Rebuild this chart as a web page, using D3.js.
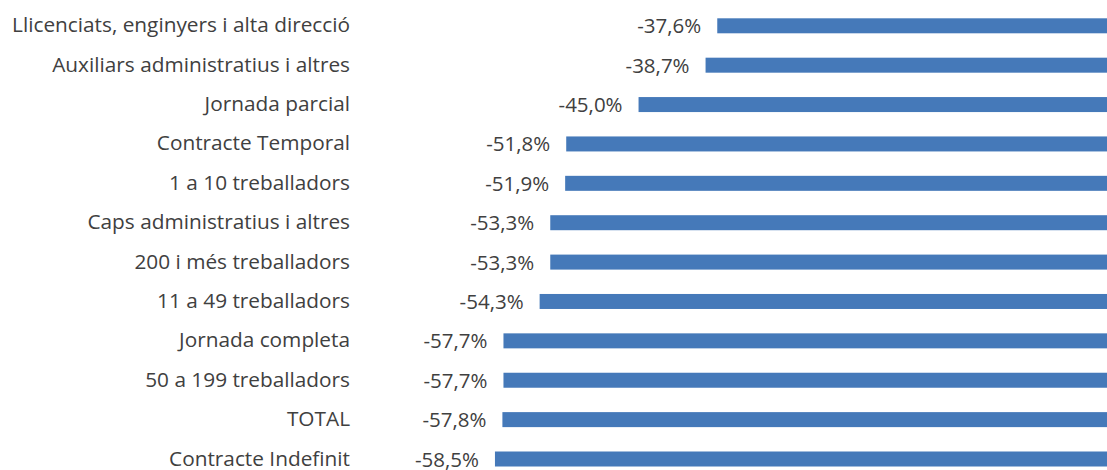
<!DOCTYPE html>
<html>
<head>
<meta charset="utf-8">
<script src="https://cdn.jsdelivr.net/npm/d3@7"></script>
<style>
  html, body { margin: 0; padding: 0; background: #ffffff; }
  svg { display: block; }
</style>
</head>
<body>
<svg id="chart" width="1107" height="470"></svg>
<script>
const categories = [
  "Llicenciats, enginyers i alta direcció",
  "Auxiliars administratius i altres",
  "Jornada parcial",
  "Contracte Temporal",
  "1 a 10 treballadors",
  "Caps administratius i altres",
  "200 i més treballadors",
  "11 a 49 treballadors",
  "Jornada completa",
  "50 a 199 treballadors",
  "TOTAL",
  "Contracte Indefinit"
];
const values = [-37.6, -38.7, -45.0, -51.8, -51.9, -53.3, -53.3, -54.3, -57.7, -57.7, -57.8, -58.5];
const valueLabels = ["-37,6%", "-38,7%", "-45,0%", "-51,8%", "-51,9%", "-53,3%", "-53,3%", "-54,3%", "-57,7%", "-57,7%", "-57,8%", "-58,5%"];

const data = categories.map((c, i) => ({ cat: c, value: values[i], label: valueLabels[i] }));

const svg = d3.select("#chart");

const x = d3.scaleLinear().domain([-60, 0]).range([479, 1117.2]);
const y = d3.scalePoint().domain(categories).range([25.8, 459]);
const barH = 15;
const barColor = "#4579b9";
const textColor = "#404040";
const fontFamily = "'Open Sans', Lato, sans-serif";

svg.append("g").selectAll("rect")
  .data(data)
  .join("rect")
  .attr("x", d => x(d.value))
  .attr("y", d => y(d.cat) - barH / 2)
  .attr("width", d => x(0) - x(d.value))
  .attr("height", barH)
  .attr("fill", barColor);

svg.append("g").selectAll("text")
  .data(data)
  .join("text")
  .attr("x", d => x(d.value) - 16)
  .attr("y", d => y(d.cat) + 7.5)
  .attr("text-anchor", "end")
  .attr("font-family", fontFamily)
  .attr("font-size", 20.5)
  .attr("fill", textColor)
  .text(d => d.label);

svg.append("g").selectAll("text")
  .data(data)
  .join("text")
  .attr("x", 350)
  .attr("y", d => y(d.cat) + 6.5)
  .attr("text-anchor", "end")
  .attr("font-family", fontFamily)
  .attr("font-size", 20.8)
  .attr("fill", textColor)
  .text(d => d.cat);
</script>
</body>
</html>
